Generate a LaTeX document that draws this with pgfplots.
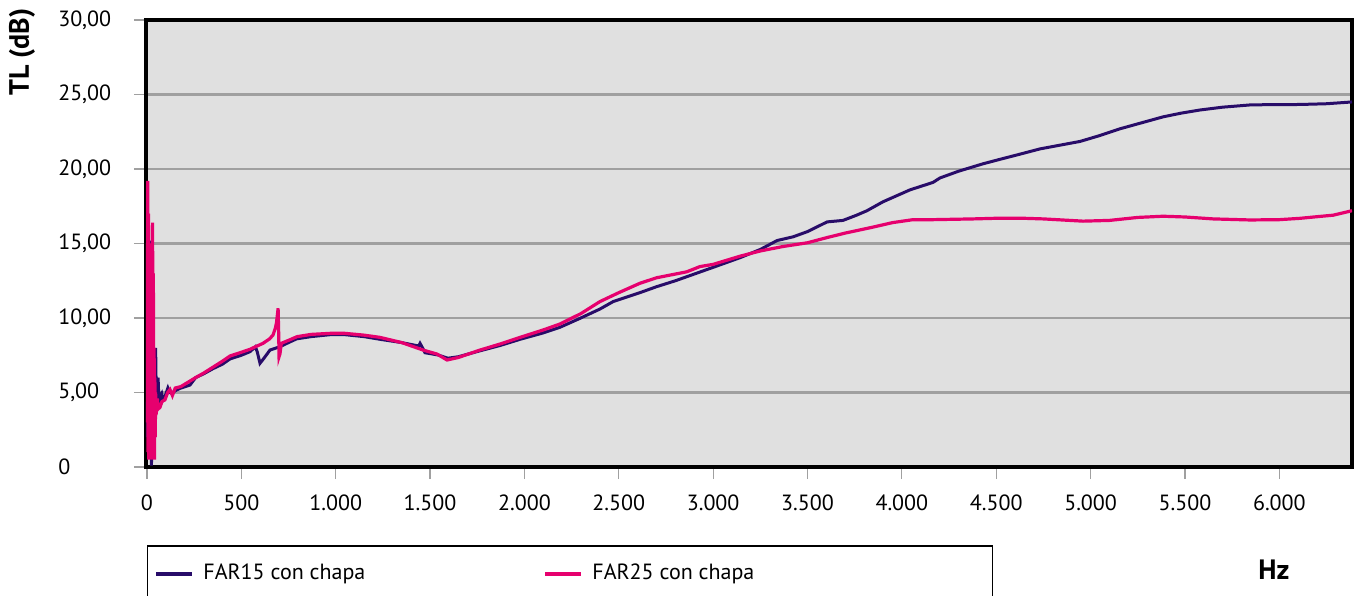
\documentclass[border=0pt]{standalone}
\usepackage{fontspec}
\setmainfont{PT Sans}
\usepackage{pgfplots}
\pgfplotsset{compat=1.18}

\definecolor{farA}{RGB}{40,12,105}
\definecolor{farB}{RGB}{230,0,110}
\definecolor{bgGray}{RGB}{224,224,224}
\definecolor{gridGray}{RGB}{160,160,160}

\begin{document}
\fontsize{11pt}{13pt}\selectfont
\begin{tikzpicture}
\begin{axis}[
  at={(0,0)}, anchor=south west,
  scale only axis,
  width=603pt, height=223.5pt,
  xmin=-5, xmax=6385,
  ymin=0, ymax=30,
  axis background/.style={fill=bgGray},
  axis line style={black, line width=1.8pt},
  xtick={0,500,...,6000},
  xticklabels={0,500,1.000,1.500,2.000,2.500,3.000,3.500,4.000,4.500,5.000,5.500,6.000},
  ytick={0,5,...,30},
  yticklabels={0,{5,00},{10,00},{15,00},{20,00},{25,00},{30,00}},
  tick align=outside,
  xtick pos=left, ytick pos=left,
  major tick length=6pt,
  tick style={gridGray, line width=0.6pt},
  ymajorgrids,
  grid style={gridGray, line width=1.2pt},
  yticklabel style={text width=26pt, align=left, xshift=-8pt},
  xticklabel style={yshift=-4pt},
  ylabel={\fontsize{14pt}{16pt}\selectfont\bfseries TL (dB)},
  ylabel style={at={(axis description cs:-0.1028,0.9284)}, anchor=center},
  xlabel={\fontsize{14pt}{16pt}\selectfont\bfseries Hz},
  xlabel style={at={(axis description cs:0.9353,-0.2304)}, anchor=center},
  legend columns=2,
  legend image code/.code={\draw[#1, line width=2pt] (0pt,0pt) -- (18pt,0pt);},
  legend style={at={(axis description cs:0.0005,-0.1745)}, anchor=north west,
    draw=black, line width=0.8pt, fill=white,
    inner xsep=3.5pt, inner ysep=8pt,
    nodes={inner sep=0pt, text height=9pt, text depth=3pt},
    /tikz/every odd column/.append style={column sep=4.5pt},
    /tikz/every even column/.append style={column sep=85pt}},
]
% FAR15 con chapa
\addplot[farA, line width=1.5pt] table {
x y
2 2
6 12
10 1
15 11.3
20 15.2
24 0.1
28 6
32 1
37 7.9
41 2
46 8.0
50 4.2
55 5.5
59 6.0
64 4.3
70 4.8
78 4.95
85 4.5
95 4.7
111 5.3
120 5.0
131 4.95
157 5.17
180 5.3
228 5.5
258 6.0
300 6.25
350 6.6
400 6.9
440 7.25
500 7.5
546 7.74
575 8.07
585 7.7
599 6.96
620 7.3
652 7.85
705 8.07
750 8.35
793 8.6
870 8.75
970 8.88
1050 8.88
1150 8.75
1235 8.57
1350 8.35
1440 8.12
1447 8.3
1460 8.0
1473 7.67
1542 7.52
1595 7.3
1650 7.4
1765 7.8
1870 8.15
1977 8.57
2100 9.0
2189 9.38
2295 9.98
2400 10.6
2470 11.1
2612 11.7
2700 12.1
2800 12.5
2900 12.95
3000 13.4
3143 14.05
3250 14.6
3339 15.2
3424 15.45
3500 15.8
3604 16.45
3688 16.55
3760 16.9
3815 17.2
3900 17.8
4043 18.6
4165 19.1
4202 19.4
4300 19.85
4430 20.35
4520 20.65
4627 21.0
4732 21.35
4944 21.85
5050 22.25
5156 22.7
5270 23.1
5384 23.5
5480 23.75
5580 23.96
5700 24.15
5845 24.3
5950 24.32
6110 24.33
6250 24.38
6385 24.5
};
\addlegendentry{\makebox[85pt][l]{FAR15 con chapa}}
% FAR25 con chapa
\addplot[farB, line width=1.6pt] table {
x y
2 3
4 19.2
6 1
8 17
10 0.5
12 14
14 0.8
16 12
18 0.5
20 15
22 2
24 0.5
26 10
28 1
30 16.4
32 0.5
34 13
36 1
38 8
40 0.5
42 6
44 2
46 5
48 3.5
51 3.8
55 4.6
60 3.9
69 4.0
80 4.4
95 4.5
110 5.0
122 5.2
135 4.8
150 5.3
180 5.4
258 6.0
300 6.3
350 6.7
400 7.1
440 7.45
500 7.7
546 7.9
580 8.1
615 8.3
650 8.6
668 8.86
680 9.3
686 9.65
692 10.3
695 10.65
698 9.0
700 7.4
705 7.6
712 8.3
750 8.5
796 8.75
870 8.9
970 8.97
1050 8.97
1150 8.85
1235 8.7
1350 8.35
1463 7.85
1537 7.58
1590 7.18
1650 7.35
1765 7.85
1870 8.25
1977 8.7
2100 9.2
2189 9.6
2300 10.3
2400 11.1
2500 11.7
2612 12.33
2700 12.7
2860 13.1
2930 13.45
3000 13.6
3143 14.15
3250 14.5
3371 14.8
3500 15.05
3604 15.4
3700 15.7
3847 16.1
3950 16.4
4059 16.6
4165 16.6
4377 16.65
4520 16.7
4627 16.7
4750 16.65
4960 16.5
5100 16.55
5250 16.75
5384 16.83
5500 16.78
5650 16.65
5845 16.58
6000 16.6
6110 16.69
6200 16.8
6285 16.9
6385 17.2
};
\addlegendentry{\makebox[196.5pt][l]{FAR25 con chapa}}
\end{axis}
\pgfresetboundingbox
\useasboundingbox (-73pt,-64pt) rectangle (605pt,233.5pt);
\end{tikzpicture}
\end{document}
